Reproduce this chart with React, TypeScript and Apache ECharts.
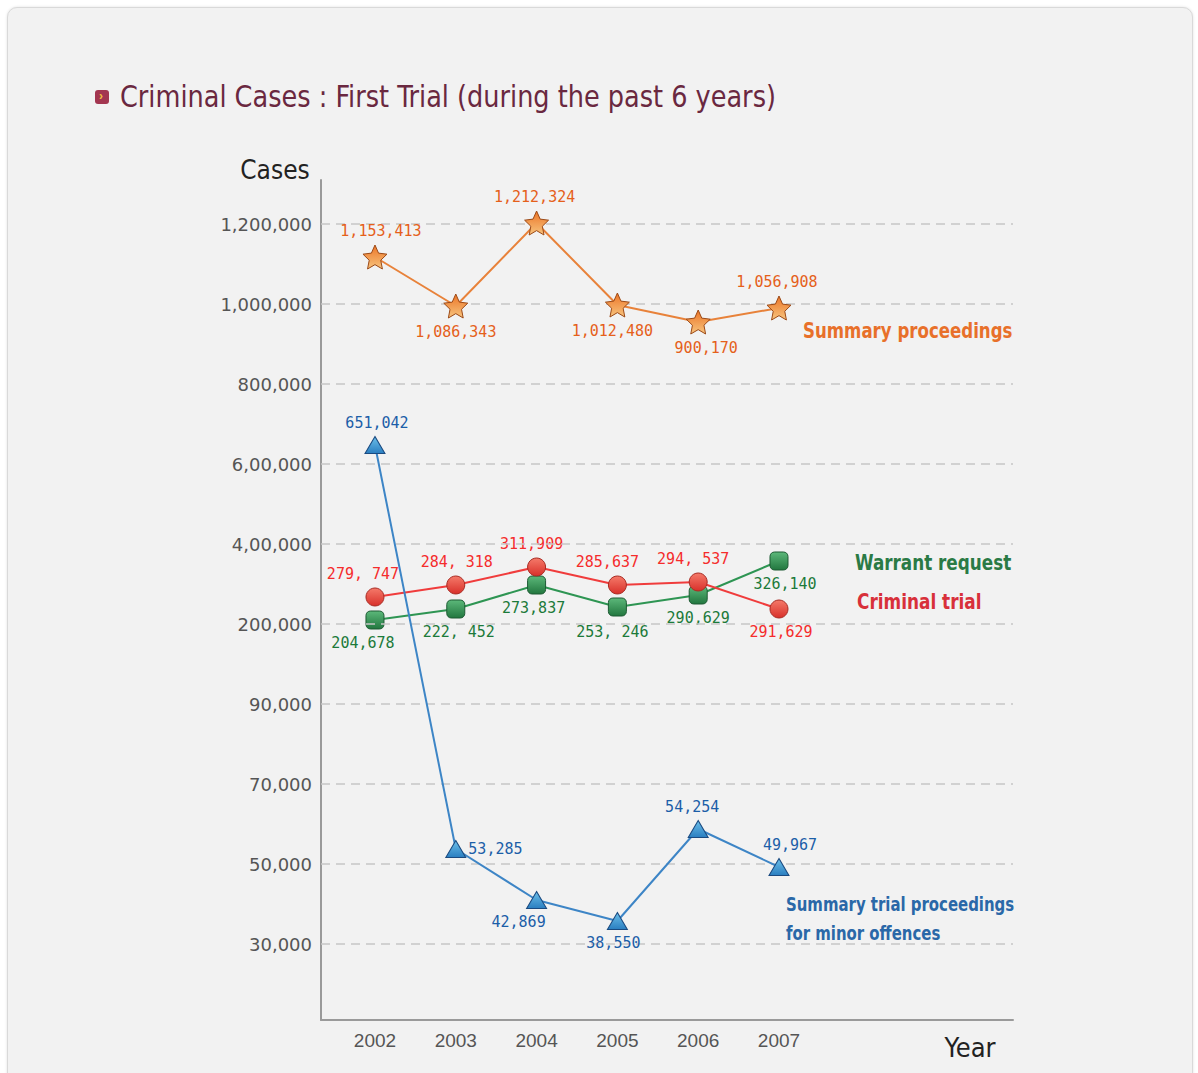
import React, { useEffect, useRef } from "react";
import * as echarts from "echarts";

// ---------- data ----------
const years = [2002, 2003, 2004, 2005, 2006, 2007];

// y-axis tick values (broken scale) and their printed labels
const yTickValues = [30000, 50000, 70000, 90000, 200000, 400000, 600000, 800000, 1000000, 1200000];
const yTickLabels = ["30,000", "50,000", "70,000", "90,000", "200,000", "4,00,000", "6,00,000", "800,000", "1,000,000", "1,200,000"];

const summaryProceedings = [1117500, 995000, 1202500, 997500, 955000, 990000];
const summaryProceedingsText = ["1,153,413", "1,086,343", "1,212,324", "1,012,480", "900,170", "1,056,908"];

const criminalTrial = [267500, 297500, 342500, 297500, 305000, 237500];
const criminalTrialText = ["279, 747", "284, 318", "311,909", "285,637", "294, 537", "291,629"];

const warrantRequest = [210000, 237500, 297500, 242500, 272500, 357500];
const warrantRequestText = ["204,678", "222, 452", "273,837", "253, 246", "290,629", "326,140"];

const summaryTrial = [647500, 53750, 41000, 35750, 58750, 49250];
const summaryTrialText = ["651,042", "53,285", "42,869", "38,550", "54,254", "49,967"];

// ---------- helpers ----------
const knots = [10000, ...yTickValues];
function toSlot(v: number): number {
  if (v <= knots[1]) return (v - knots[0]) / (knots[1] - knots[0]);
  for (let i = 2; i < knots.length; i++) {
    if (v <= knots[i]) return i - 1 + (v - knots[i - 1]) / (knots[i] - knots[i - 1]);
  }
  const n = knots.length - 1;
  return n + (v - knots[n]) / (knots[n] - knots[n - 1]);
}

function starPath(): string {
  const pts: string[] = [];
  for (let i = 0; i < 10; i++) {
    const r = i % 2 === 0 ? 50 : 24;
    const a = -Math.PI / 2 + (i * Math.PI) / 5;
    pts.push(`${(50 + r * Math.cos(a)).toFixed(2)} ${(50 + r * Math.sin(a)).toFixed(2)}`);
  }
  return "path://M" + pts.join(" L") + " Z";
}

const NARROW = "'Liberation Sans Narrow', 'DejaVu Sans Condensed', 'Liberation Sans', sans-serif";
const MONO = "'DejaVu Sans Mono', 'Liberation Mono', monospace";

function grad(top: string, bottom: string) {
  return new echarts.graphic.LinearGradient(0, 0, 0, 1, [
    { offset: 0, color: top },
    { offset: 1, color: bottom },
  ]);
}

function buildData(vals: number[], pos: string[], offs: number[][]) {
  return years.map((yr, i) => ({
    value: [yr, toSlot(vals[i])],
    label: { position: pos[i], offset: offs[i] },
  }));
}

function seriesName(text: string, x: number, y: number, color: string, size: number, sx: number) {
  return {
    type: "text",
    x,
    y,
    scaleX: sx,
    style: { text, fill: color, fontFamily: NARROW, fontSize: size, fontWeight: "bold", textAlign: "left", textVerticalAlign: "middle" },
  };
}

export default function App() {
  const ref = useRef<HTMLDivElement>(null);

  useEffect(() => {
    if (!ref.current) return;
    const chart = echarts.init(ref.current, undefined, { renderer: "svg" });

    const labelBase = (texts: string[], color: string) => ({
      show: true,
      formatter: (p: any) => texts[p.dataIndex],
      fontFamily: MONO,
      fontSize: 15,
      color,
      distance: 6,
    });

    const option: any = {
      animation: false,
      backgroundColor: "transparent",
      grid: { left: 321, top: 180, width: 692, height: 840, containLabel: false },
      xAxis: {
        type: "value",
        min: 2001.332,
        max: 2009.896,
        axisLine: { show: true, lineStyle: { color: "#9a9a9a", width: 2 } },
        axisTick: { show: false },
        splitLine: { show: false },
        axisLabel: {
          customValues: years,
          formatter: (v: number) => String(Math.round(v)),
          fontFamily: "'Liberation Sans', sans-serif",
          fontSize: 19,
          color: "#555",
          margin: 11,
        },
      },
      yAxis: {
        type: "value",
        min: 0.05,
        max: 10.55,
        axisLine: { show: true, lineStyle: { color: "#9a9a9a", width: 2 } },
        axisTick: { show: false },
        splitLine: { show: false },
        axisLabel: {
          customValues: yTickValues.map((_, i) => i + 1),
          formatter: (v: number) => yTickLabels[Math.round(v) - 1] ?? "",
          fontFamily: "'DejaVu Sans', sans-serif",
          fontSize: 18,
          color: "#555",
          margin: 9,
        },
      },
      series: [
        {
          name: "Warrant request",
          type: "line",
          data: buildData(
            warrantRequest,
            ["bottom", "bottom", "bottom", "bottom", "bottom", "bottom"],
            [[-12, 0], [3, 0], [-3, 0], [-5, 2], [0, 0], [6, 0]]
          ),
          symbol: "roundRect",
          symbolSize: 18,
          lineStyle: { color: "#2e9553", width: 2 },
          itemStyle: { color: grad("#5cb87a", "#22773f"), borderColor: "#1d5a33", borderWidth: 1 },
          label: labelBase(warrantRequestText, "#1c7a3a"),
          markLine: {
            silent: true,
            symbol: "none",
            label: { show: false },
            lineStyle: { color: "#c6c6c6", type: [9, 6], width: 1.5 },
            data: yTickValues.map((_, i) => ({ yAxis: i + 1 })),
          },
          z: 3,
        },
        {
          name: "Criminal trial",
          type: "line",
          data: buildData(
            criminalTrial,
            ["top", "top", "top", "top", "top", "bottom"],
            [[-12, 0], [1, 0], [-5, 0], [-10, 0], [-5, 0], [2, 0]]
          ),
          symbol: "circle",
          symbolSize: 18,
          lineStyle: { color: "#f03c3c", width: 2 },
          itemStyle: { color: grad("#f57a6a", "#d8302a"), borderColor: "#a82a22", borderWidth: 1 },
          label: labelBase(criminalTrialText, "#f52c2c"),
          z: 4,
        },
        {
          name: "Summary proceedings",
          type: "line",
          data: buildData(
            summaryProceedings,
            ["top", "bottom", "top", "bottom", "bottom", "top"],
            [[6, 0], [0, 0], [-2, 0], [-5, 0], [8, 0], [-2, 0]]
          ),
          symbol: starPath(),
          symbolSize: 24,
          lineStyle: { color: "#e8823a", width: 2 },
          itemStyle: { color: grad("#ec7426", "#f7c47e"), borderColor: "#9c4a18", borderWidth: 1 },
          label: labelBase(summaryProceedingsText, "#e5601a"),
          z: 5,
        },
        {
          name: "Summary trial proceedings for minor offences",
          type: "line",
          data: buildData(
            summaryTrial,
            ["top", "right", "bottom", "bottom", "top", "top"],
            [[2, 0], [-4, 0], [-18, 0], [-4, 0], [-6, 0], [11, 0]]
          ),
          symbol: "triangle",
          symbolSize: [20, 17],
          lineStyle: { color: "#3d85c6", width: 2 },
          itemStyle: { color: grad("#6cc0ea", "#2a7ec0"), borderColor: "#1a4a80", borderWidth: 1 },
          label: labelBase(summaryTrialText, "#1c5ea8"),
          z: 6,
        },
      ],
      graphic: [
        {
          type: "rect",
          left: 95,
          top: 90,
          shape: { width: 14, height: 14, r: 3 },
          style: { fill: "#a33650" },
        },
        {
          type: "text",
          left: 99,
          top: 90,
          style: { text: "›", fill: "#f0c040", fontSize: 12, fontWeight: "bold" },
        },
        {
          type: "text",
          x: 120,
          y: 97,
          scaleX: 0.948,
          style: {
            text: "Criminal Cases : First Trial (during the past 6 years)",
            fill: "#6a2840",
            fontFamily: NARROW,
            fontSize: 30,
            textVerticalAlign: "middle",
            textAlign: "left",
          },
        },
        {
          type: "text",
          x: 275,
          y: 170,
          style: { text: "Cases", fill: "#222", fontFamily: NARROW, fontSize: 26, textAlign: "center", textVerticalAlign: "middle" },
        },
        {
          type: "text",
          x: 970,
          y: 1047,
          style: { text: "Year", fill: "#222", fontFamily: NARROW, fontSize: 27, textAlign: "center", textVerticalAlign: "middle" },
        },
        seriesName("Summary proceedings", 803, 330, "#e8702a", 22, 0.84),
        seriesName("Warrant request", 855, 562, "#2a7a45", 22, 0.85),
        seriesName("Criminal trial", 857, 601, "#d8303a", 22, 0.855),
        seriesName("Summary trial proceedings", 786, 904, "#2a68a8", 20, 0.83),
        seriesName("for minor offences", 786, 933, "#2a68a8", 20, 0.83),
      ],
    };

    chart.setOption(option);
    return () => chart.dispose();
  }, []);

  return (
    <div style={{ position: "absolute", left: 0, top: 0, width: 1198, height: 1073, overflow: "hidden", background: "#ffffff" }}>
      <div
        style={{
          position: "absolute",
          left: 7,
          top: 7,
          width: 1184,
          height: 1090,
          background: "#f2f2f2",
          border: "1px solid #d9d9d9",
          borderRadius: 10,
          boxShadow: "0 0 3px rgba(0,0,0,0.12)",
        }}
      />
      <div ref={ref} style={{ position: "absolute", left: 0, top: 0, width: 1198, height: 1073 }} />
    </div>
  );
}
